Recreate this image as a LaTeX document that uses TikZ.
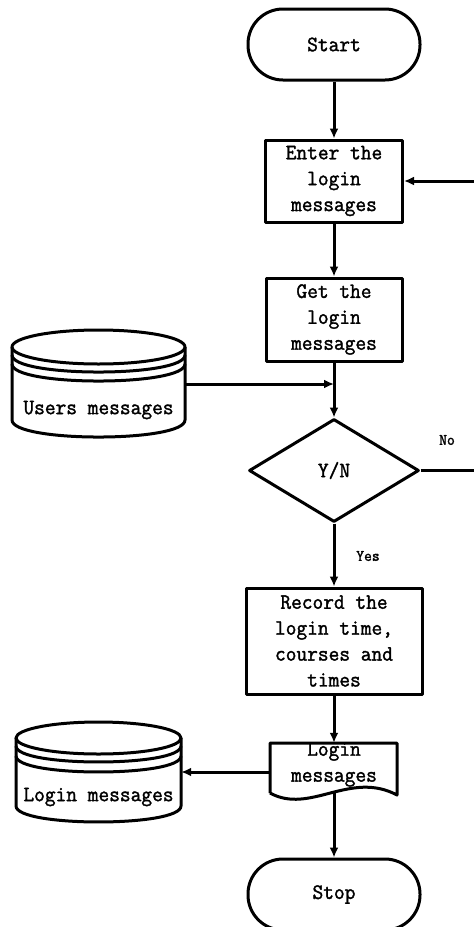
\documentclass[tikz,border=0pt]{standalone}
\usepackage{fontspec}
\newfontfamily\fcfont[FakeBold=1.6,FakeStretch=0.95]{Latin Modern Mono}
\usetikzlibrary{shapes.geometric,arrows.meta}
\begin{document}
\begin{tikzpicture}[x=1bp,y=-1bp,
  every node/.style={font=\fcfont\fontsize{22}{26}\selectfont, align=center, inner sep=0pt},
  ln/.style={line width=3bp, line join=round},
  arr/.style={ln, -{Latex[length=10bp,width=9bp]}},
  term/.style={draw, ln, rectangle, rounded corners=35bp, minimum width=172bp, minimum height=71bp},
  proc/.style={draw, ln, rectangle},
  decis/.style={draw, ln, diamond, minimum width=170bp, minimum height=103bp},
  lbl/.style={font=\fcfont\fontsize{16}{18}\selectfont}]
\useasboundingbox (0,0) rectangle (474,927);
\fill[white] (0,0) rectangle (474,927);

% main column
\node[term] (start) at (334,44.5) {Start};
\node[proc, minimum width=137bp, minimum height=82bp] (enter) at (334,181) {Enter the\\login\\messages};
\node[proc, minimum width=136bp, minimum height=83bp] (get) at (334,319.5) {Get the\\login\\messages};
\node[decis] (dia) at (334,470.5) {Y/N};
\node[proc, minimum width=176bp, minimum height=106bp] (rec) at (334,641) {Record the\\login time,\\courses and\\times};
\node[minimum width=127bp, minimum height=58bp] (doc) at (334,772) {};
\node (doctext) at (334,764.5) {Login\\messages};
\node[term] (stop) at (334,894.5) {Stop};

% document shape
\draw[ln] (270,793) -- (270,743) -- (397,743) -- (397,795)
  .. controls (350,770) and (310,815) .. (270,793);
\coordinate (docb) at (334,791);

% users messages cylinder
\draw[ln] (98.5,347) ellipse [x radius=86.5, y radius=17];
\draw[ln] (12,355) .. controls (12,377.7) and (185,377.7) .. (185,355);
\draw[ln] (12,364) .. controls (12,386.7) and (185,386.7) .. (185,364);
\draw[ln] (12,347) -- (12,420) .. controls (12,442.7) and (185,442.7) .. (185,420) -- (185,347);
\node[minimum width=173bp] (users) at (98.5,410) {Users messages};

% login messages cylinder
\draw[ln] (98.5,738) ellipse [x radius=82.5, y radius=16];
\draw[ln] (16,746) .. controls (16,767.3) and (181,767.3) .. (181,746);
\draw[ln] (16,756) .. controls (16,777.3) and (181,777.3) .. (181,756);
\draw[ln] (16,738) -- (16,806) .. controls (16,827.3) and (181,827.3) .. (181,806) -- (181,738);
\node[minimum width=165bp] (lgn) at (98.5,797) {Login messages};

% labels
\node[lbl] (nolbl) at (447,440) {No};
\node[lbl] (yeslbl) at (368,556) {Yes};

% connectors
\coordinate (J) at (334,384);
\coordinate (loopc) at (490,470.5);
\draw[arr] (start.south) -- (enter.north);
\draw[arr] (enter.south) -- (get.north);
\draw[arr] (get.south) -- (dia.north);
\draw[arr] (users.east |- J) -- (J);
\draw[arr] (dia.south) -- (rec.north);
\draw[arr] (rec.south) -- (doc.north);
\draw[arr] (doc.west) -- (lgn.east |- doc.west);
\draw[arr] (docb) -- (stop.north);
\draw[arr] (dia.east) -- (loopc) |- (enter.east);
\end{tikzpicture}
\end{document}
